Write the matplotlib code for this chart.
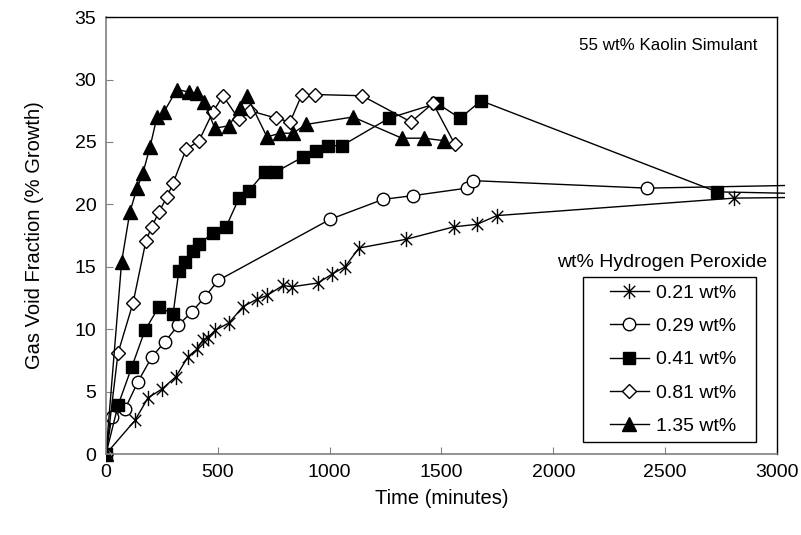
import numpy as np
import matplotlib
matplotlib.use('Agg')
import matplotlib.pyplot as plt
from matplotlib.path import Path
from matplotlib.patches import Rectangle

plt.rcParams['font.family'] = ['Liberation Sans', 'DejaVu Sans']

# 0.21 wt%
t_021 = [0, 130, 188, 250, 313, 367, 407, 432, 455, 487, 550, 612, 675, 720, 791, 832,
         948, 1010, 1069, 1131, 1341, 1556, 1659, 1748, 2808, 3300]
g_021 = [0, 2.7, 4.5, 5.2, 6.2, 7.8, 8.4, 9.1, 9.3, 9.9, 10.5, 11.8, 12.4, 12.7, 13.5, 13.4,
         13.7, 14.4, 15.0, 16.5, 17.2, 18.2, 18.4, 19.1, 20.5, 20.6]

# 0.29 wt%
t_029 = [0, 26, 85, 143, 206, 264, 322, 385, 443, 501, 1002, 1239, 1373, 1614, 1641, 2419, 3300]
g_029 = [0, 3.0, 3.6, 5.8, 7.8, 9.0, 10.3, 11.4, 12.6, 13.9, 18.8, 20.4, 20.7, 21.3, 21.9, 21.3, 21.6]

# 0.41 wt%
t_041 = [0, 54, 116, 174, 237, 300, 326, 353, 389, 416, 478, 537, 595, 640, 711, 760,
         881, 941, 993, 1055, 1265, 1480, 1583, 1677, 2732, 3300]
g_041 = [0, 3.9, 7.0, 9.9, 11.8, 11.2, 14.7, 15.4, 16.3, 16.8, 17.7, 18.2, 20.5, 21.1, 22.6, 22.6,
         23.8, 24.3, 24.7, 24.7, 26.9, 28.1, 26.9, 28.3, 21.0, 20.8]

# 0.81 wt%
t_081 = [0, 54, 121, 179, 205, 237, 273, 300, 358, 416, 478, 523, 595, 644, 762,
         823, 876, 934, 1145, 1364, 1462, 1560]
g_081 = [0, 8.1, 12.1, 17.1, 18.2, 19.4, 20.6, 21.7, 24.4, 25.1, 27.4, 28.7, 26.8, 27.5, 26.9,
         26.6, 28.8, 28.8, 28.7, 26.6, 28.1, 24.8]

# 1.35 wt%
t_135 = [0, 70, 107, 139, 165, 197, 228, 259, 317, 371, 407, 438, 487, 550, 599, 630,
         720, 778, 836, 894, 1104, 1323, 1422, 1511]
g_135 = [0, 15.4, 19.4, 21.3, 22.5, 24.6, 27.0, 27.4, 29.2, 29.0, 28.9, 28.2, 26.1, 26.3, 27.7, 28.7,
         25.4, 25.7, 25.7, 26.4, 27.0, 25.3, 25.3, 25.1]

labels = ['0.21 wt%', '0.29 wt%', '0.41 wt%', '0.81 wt%', '1.35 wt%']

# asterisk marker like excel (vertical line + X)
star = Path([(0, -1), (0, 1), (-0.75, -0.75), (0.75, 0.75), (-0.75, 0.75), (0.75, -0.75)],
            [Path.MOVETO, Path.LINETO, Path.MOVETO, Path.LINETO, Path.MOVETO, Path.LINETO])

fig = plt.figure(figsize=(8.01, 5.35), dpi=100)
ax = fig.add_axes([0.1323, 0.1514, 0.8377, 0.8166])

series = [
    (t_021, g_021, dict(marker=star, markersize=11, mfc='black', mec='black', mew=1)),
    (t_029, g_029, dict(marker='o', markersize=9, mfc='white', mec='black', mew=1)),
    (t_041, g_041, dict(marker='s', markersize=8.5, mfc='black', mec='black', mew=1)),
    (t_081, g_081, dict(marker='D', markersize=7.5, mfc='white', mec='black', mew=1)),
    (t_135, g_135, dict(marker='^', markersize=10, mfc='black', mec='black', mew=1)),
]

clip = Rectangle((0, -0.02), 1.012, 1.04, transform=ax.transAxes, visible=False)
ax.add_patch(clip)
for (t, g, st), lab in zip(series, labels):
    ln, = ax.plot(t, g, color='black', lw=1, label=lab, **st)
    ln.set_clip_path(clip)

ax.set_xlim(0, 3000)
ax.set_ylim(0, 35)
ax.set_xticks(np.arange(0, 3001, 500))
ax.set_yticks(np.arange(0, 36, 5))
ax.tick_params(direction='in', length=5, color='#808080', labelsize=14, pad=7)
for s in ['left', 'bottom']:
    ax.spines[s].set_color('#808080')
    ax.spines[s].set_linewidth(1.2)
for s in ['top', 'right']:
    ax.spines[s].set_color('black')
    ax.spines[s].set_linewidth(1)

ax.set_xlabel('Time (minutes)', fontsize=14.5, labelpad=6)
ax.set_ylabel('Gas Void Fraction (% Growth)', fontsize=14.5, labelpad=22)

ax.text(0.838, 0.935, '55 wt% Kaolin Simulant', transform=ax.transAxes,
        ha='center', va='center', fontsize=12.2)

# legend title sits above the box, box drawn by hand
ax.text(0.829, 0.439, 'wt% Hydrogen Peroxide', transform=ax.transAxes,
        ha='center', va='center', fontsize=14)
ax.add_patch(Rectangle((0.711, 0.027), 0.258, 0.378, transform=ax.transAxes,
                       fill=True, facecolor='white', edgecolor='black', lw=1, zorder=4))
leg = ax.legend(loc='upper left', bbox_to_anchor=(0.751, 0.388), fontsize=14,
                frameon=False, borderpad=0, borderaxespad=0, labelspacing=0.8,
                handlelength=2.0, handletextpad=0.36)
leg.set_zorder(5)

fig.savefig('out.png', dpi=100)
